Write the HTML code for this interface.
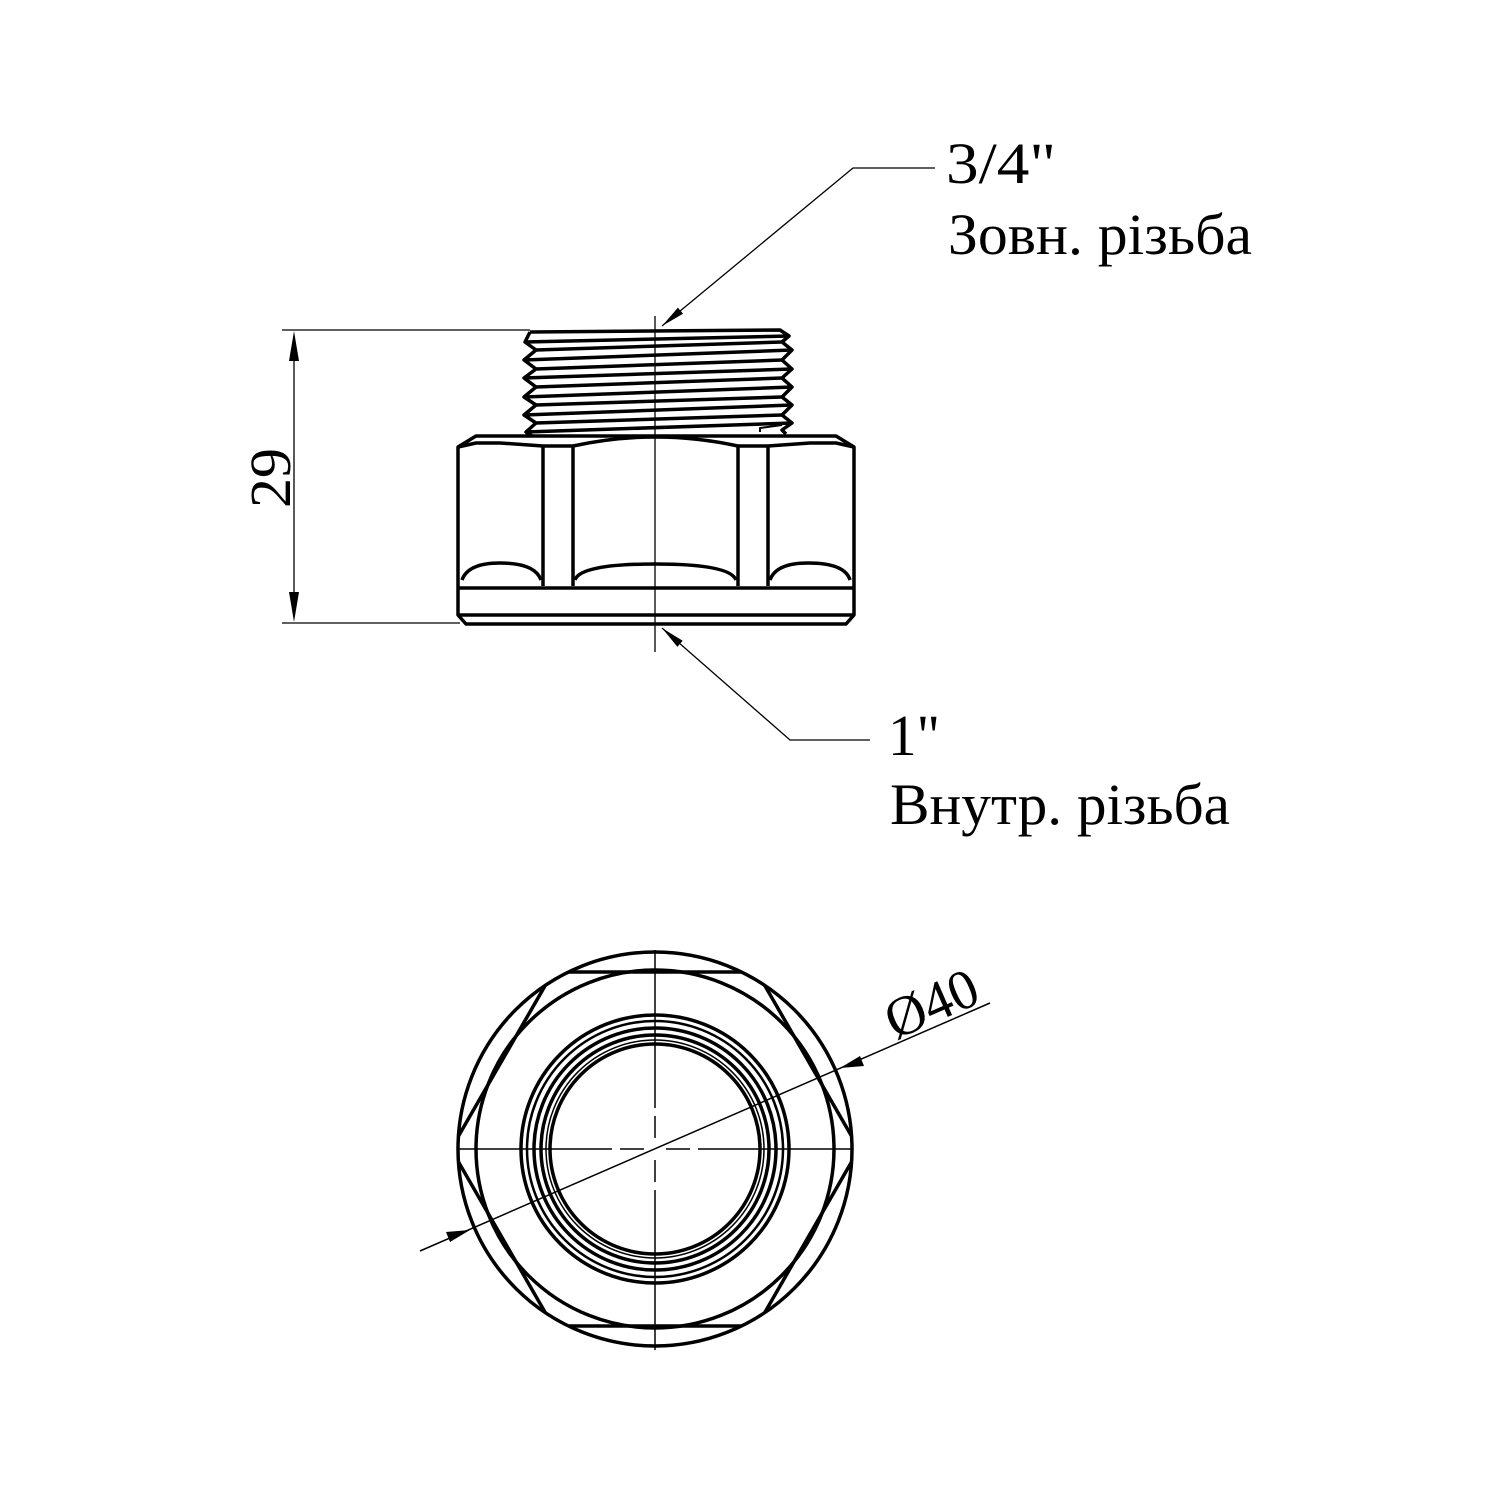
<!DOCTYPE html>
<html><head><meta charset="utf-8"><style>
html,body{margin:0;padding:0;background:#fff}
svg{display:block}
text{font-family:"Liberation Serif",serif;fill:#000}
</style></head><body>
<svg width="1500" height="1500" viewBox="0 0 1500 1500" xmlns="http://www.w3.org/2000/svg">
<defs>
<marker id="ar" markerWidth="24" markerHeight="10" refX="24" refY="5" orient="auto" markerUnits="userSpaceOnUse">
<path d="M0,1 L24,5 L0,9 Z" fill="#000"/>
</marker>
<clipPath id="cc"><circle cx="655" cy="1149" r="197"/></clipPath>
</defs>
<g fill="none" stroke="#000">
<!-- dimension 29 -->
<line x1="282" y1="330" x2="530" y2="330" stroke-width="1.3"/>
<line x1="282" y1="623" x2="460" y2="623" stroke-width="1.3"/>
<line x1="294" y1="360" x2="294" y2="593" stroke-width="1.3"/>
<path d="M294,331 L289,361 L299,361 Z M294,622 L289,592 L299,592 Z" fill="#000" stroke="none"/>
<!-- leaders -->
<polyline points="935,168 853,168 662,326" stroke-width="1.3" marker-end="url(#ar)"/>
<polyline points="870,740 790,740 662,628" stroke-width="1.3" marker-end="url(#ar)"/>
<!-- centerline -->
<line x1="655" y1="316" x2="655" y2="652" stroke-width="1.3"/>

<!-- thread -->
<g stroke-width="3.5" stroke-linejoin="round">
<path d="M530,332 L780,330 L789,336 L782,342 L792,350 L782,360 L792,369 L782,378 L792,387 L782,397 L792,405 L782,415 L792,423 L782,430 L786,434"/>
<path d="M530,332 L525,342 L536,350 L524,360 L536,369 L524,378 L536,387 L524,397 L536,405 L524,415 L536,423 L526,432 L532,436"/>
<path d="M525,342 L789,336"/>
<path d="M536,350 L782,342"/>
<path d="M524,360 L792,350"/>
<path d="M536,369 L782,360"/>
<path d="M524,378 L792,369"/>
<path d="M536,387 L782,378"/>
<path d="M524,397 L792,387"/>
<path d="M536,405 L782,397"/>
<path d="M524,415 L792,405"/>
<path d="M536,423 L782,415"/>
<path d="M526,432 L792,423"/>
<path d="M760,432 L760,428 L782,425" stroke-width="2"/>
</g>
<!-- hex body -->
<g stroke-width="3.5" stroke-linejoin="round">
<path d="M458,447 L476,436 L836,436 L854,447 L854,615 L846,624 L466,624 L458,615 Z"/>
<path d="M458,447 L476,443 L500,443 L543,446"/>
<path d="M543,446 L573,446"/>
<path d="M573,446 Q655,428 738,446"/>
<path d="M738,446 L768,446"/>
<path d="M768,446 L810,443 L836,443 L854,447"/>
<line x1="543" y1="446" x2="543" y2="586"/>
<line x1="573" y1="446" x2="573" y2="586"/>
<line x1="738" y1="446" x2="738" y2="586"/>
<line x1="768" y1="446" x2="768" y2="586"/>
<line x1="458" y1="588" x2="854" y2="588"/>
<line x1="458" y1="615" x2="854" y2="615"/>
<path d="M462,580 Q468,563 500,563 Q535,563 541,580"/>
<path d="M575,580 Q580,564 655,564 Q730,564 736,580"/>
<path d="M770,580 Q776,563 808,563 Q845,563 850,580"/>
</g>

<!-- bottom view -->
<g stroke-width="3.5">
<circle cx="655" cy="1149" r="197"/>
<circle cx="655" cy="1149" r="179"/>
<polygon clip-path="url(#cc)" points="553,972 757,972 859,1149 757,1326 553,1326 451,1149"/>
<circle cx="655" cy="1149" r="134"/>
<circle cx="655" cy="1149" r="128" stroke-width="2.5"/>
<circle cx="655" cy="1149" r="121"/>
<circle cx="655" cy="1149" r="114"/>
<circle cx="655" cy="1149" r="109" stroke-width="1.5"/>
<circle cx="655" cy="1149" r="105"/>
</g>
<g stroke-width="1.5">
<line x1="655" y1="950" x2="655" y2="1108"/>
<line x1="655" y1="1116" x2="655" y2="1138"/>
<line x1="655" y1="1160" x2="655" y2="1182"/>
<line x1="655" y1="1190" x2="655" y2="1350"/>
<line x1="457" y1="1149" x2="612" y2="1149"/>
<line x1="620" y1="1149" x2="644" y2="1149"/>
<line x1="666" y1="1149" x2="690" y2="1149"/>
<line x1="698" y1="1149" x2="853" y2="1149"/>
<line x1="420" y1="1251" x2="990" y2="1003"/>
</g>
<path d="M470,1230 L446,1232 L450,1242 Z M840,1068 L864,1066 L860,1056 Z" fill="#000" stroke="none"/>
</g>

<text x="946" y="183" font-size="58" textLength="110" lengthAdjust="spacingAndGlyphs">3/4"</text>
<text x="948" y="254" font-size="58" textLength="304" lengthAdjust="spacingAndGlyphs">Зовн. різьба</text>
<text x="888" y="755" font-size="58" textLength="52" lengthAdjust="spacingAndGlyphs">1"</text>
<text x="890" y="824" font-size="58" textLength="340" lengthAdjust="spacingAndGlyphs">Внутр. різьба</text>
<text transform="translate(290,508) rotate(-90)" font-size="58" textLength="60" lengthAdjust="spacingAndGlyphs">29</text>
<text transform="translate(895,1040) rotate(-23.6)" font-size="56" textLength="96" lengthAdjust="spacingAndGlyphs">Ø40</text>
</svg>
</body></html>
